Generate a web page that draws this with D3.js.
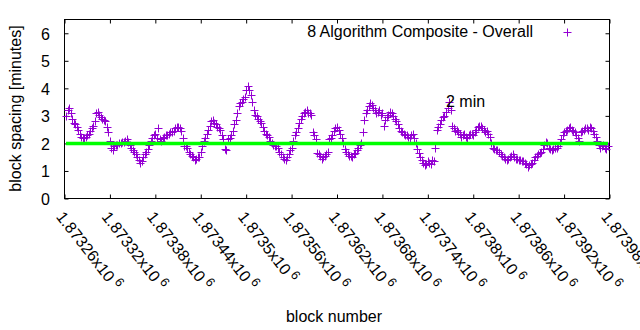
<!DOCTYPE html>
<html>
<head>
<meta charset="utf-8">
<script src="https://cdn.jsdelivr.net/npm/d3@7"></script>
<style>
body { margin: 0; background: #fff; }
text { font-family: "Liberation Sans", Arial, sans-serif; font-size: 16px; fill: #000; }
</style>
</head>
<body>
<div id="chart"></div>
<script>
// block numbers (x) and block spacing in minutes (y)
var blocks = [
  1873262,1873264,1873266,1873268,1873270,1873272,1873274,1873276,1873278,1873280,1873282,1873284,1873286,1873288,1873290,1873292,1873294,1873296,1873298,1873300,
  1873302,1873304,1873306,1873308,1873310,1873312,1873314,1873316,1873318,1873320,1873322,1873324,1873326,1873328,1873330,1873332,1873334,1873336,1873338,1873340,
  1873342,1873344,1873346,1873348,1873350,1873352,1873354,1873356,1873358,1873360,1873362,1873364,1873366,1873368,1873370,1873372,1873374,1873376,1873378,1873380,
  1873382,1873384,1873386,1873388,1873390,1873392,1873394,1873396,1873398,1873400,1873402,1873404,1873406,1873408,1873410,1873412,1873414,1873416,1873418,1873420,
  1873422,1873424,1873426,1873428,1873430,1873432,1873434,1873436,1873438,1873440,1873442,1873444,1873446,1873448,1873450,1873452,1873454,1873456,1873458,1873460,
  1873462,1873464,1873466,1873468,1873470,1873472,1873474,1873476,1873478,1873480,1873482,1873484,1873486,1873488,1873490,1873492,1873494,1873496,1873498,1873500,
  1873502,1873504,1873506,1873508,1873510,1873512,1873514,1873516,1873518,1873520,1873522,1873524,1873526,1873528,1873530,1873532,1873534,1873536,1873538,1873540,
  1873542,1873544,1873546,1873548,1873550,1873552,1873554,1873556,1873558,1873560,1873562,1873564,1873566,1873568,1873570,1873572,1873574,1873576,1873578,1873580,
  1873582,1873584,1873586,1873588,1873590,1873592,1873594,1873596,1873598,1873600,1873602,1873604,1873606,1873608,1873610,1873612,1873614,1873616,1873618,1873620,
  1873622,1873624,1873626,1873628,1873630,1873632,1873634,1873636,1873638,1873640,1873642,1873644,1873646,1873648,1873650,1873652,1873654,1873656,1873658,1873660,
  1873662,1873664,1873666,1873668,1873670,1873672,1873674,1873676,1873678,1873680,1873682,1873684,1873686,1873688,1873690,1873692,1873694,1873696,1873698,1873700,
  1873702,1873704,1873706,1873708,1873710,1873712,1873714,1873716,1873718,1873720,1873722,1873724,1873726,1873728,1873730,1873732,1873734,1873736,1873738,1873740,
  1873742,1873744,1873746,1873748,1873750,1873752,1873754,1873756,1873758,1873760,1873762,1873764,1873766,1873768,1873770,1873772,1873774,1873776,1873778,1873780,
  1873782,1873784,1873786,1873788,1873790,1873792,1873794,1873796,1873798,1873800,1873802,1873804,1873806,1873808,1873810,1873812,1873814,1873816,1873818,1873820,
  1873822,1873824,1873826,1873828,1873830,1873832,1873834,1873836,1873838,1873840,1873842,1873844,1873846,1873848,1873850,1873852,1873854,1873856,1873858,1873860,
  1873862,1873864,1873866,1873868,1873870,1873872,1873874,1873876,1873878,1873880,1873882,1873884,1873886,1873888,1873890,1873892,1873894,1873896,1873898,1873900,
  1873902,1873904,1873906,1873908,1873910,1873912,1873914,1873916,1873918,1873920,1873922,1873924,1873926,1873928,1873930,1873932,1873934,1873936,1873938,1873940,
  1873942,1873944,1873946,1873948,1873950,1873952,1873954,1873956,1873958,1873960,1873962,1873964,1873966,1873968,1873970,1873972,1873974,1873976,1873978
];
var spacing = [
  3.0,3.2, 3.3,3.1, 2.9,2.75, 2.7,2.6, 2.5,2.35, 2.25,2.2, 2.2,2.25, 2.3,2.35, 2.45,2.55, 2.65,2.8,
  3.1,3.15, 3.05,2.95, 2.9,2.85, 2.8,2.6, 2.4,2.1, 1.85,1.75, 1.9,1.95, 1.95,2.0, 2.0,2.05, 2.05,2.1,
  2.15,2.05, 1.95,1.85, 1.75,1.7, 1.6,1.5, 1.4,1.3, 1.35,1.5, 1.6,1.7, 1.8,1.95, 2.1,2.2, 2.3,2.35,
  2.2,2.55, 2.15,2.1, 2.2,2.25, 2.3,2.3, 2.35,2.4, 2.4,2.45, 2.55,2.6, 2.6,2.55, 2.45,2.2, 1.9,1.9,
  1.85,1.7, 1.6,1.55, 1.5,1.4, 1.45,1.5, 1.5,1.7, 1.9,2.1, 2.2,2.35, 2.5,2.65, 2.8,2.85, 2.75,2.7,
  2.6,2.55, 2.5,2.3, 2.15,1.8, 1.75,2.15, 2.2,2.3, 2.45,2.7, 2.85,3.1, 3.35,3.45, 3.5,3.6, 3.7,3.95,
  4.1,3.95, 3.75,3.5, 3.2,3.05, 3.0,2.9, 2.8,2.75, 2.6,2.45, 2.35,2.3, 2.25,2.1, 2.0,1.95, 1.9,1.9,
  1.85,1.7, 1.6,1.5, 1.45,1.4, 1.5,1.6, 1.75,1.85, 2.1,2.3, 2.4,2.55, 2.75,2.9, 3.0,3.1, 3.15,3.2,
  3.1,3.1, 3.05,2.4, 2.3,2.15, 1.65,1.6, 1.55,1.45, 1.5,1.55, 1.6,1.7, 2.15,2.2, 2.3,2.45, 2.55,2.6,
  2.5,2.35, 2.2,2.0, 1.8,1.7, 1.6,1.55, 1.55,1.5, 1.6,1.65, 1.75,1.85, 1.95,2.0, 2.4,2.85, 3.1,3.2,
  3.35,3.45, 3.4,3.3, 3.2,3.1, 3.15,3.2, 3.05,3.1, 2.65,2.85, 2.95,3.05, 3.15,3.1, 3.0,2.9, 2.8,2.7,
  2.55,2.45, 2.4,2.35, 2.3,2.3, 2.25,2.2, 2.3,2.35, 2.2,2.0, 1.8,1.65, 1.5,1.4, 1.3,1.2, 1.25,1.35,
  1.3,1.25, 1.4,1.35, 1.85,2.5, 2.6,2.7, 2.85,2.95, 3.0,3.15, 3.3,3.5, 3.2,2.65, 2.55,2.45, 2.5,2.4,
  2.35,2.25, 2.3,2.35, 2.25,2.2, 2.3,2.35, 2.35,2.3, 2.4,2.5, 2.6,2.65, 2.65,2.55, 2.5,2.4, 2.45,2.35,
  2.25,2.0, 1.85,1.8, 1.75,1.75, 1.7,1.6, 1.55,1.5, 1.45,1.4, 1.45,1.5, 1.55,1.6, 1.5,1.45, 1.45,1.4,
  1.4,1.35, 1.35,1.3, 1.25,1.15, 1.2,1.25, 1.3,1.4, 1.5,1.55, 1.6,1.65, 1.7,1.8, 1.95,2.05, 2.0,1.85,
  1.8,1.75, 1.8,1.85, 1.85,1.9, 2.0,2.15, 2.3,2.4, 2.45,2.5, 2.55,2.6, 2.5,2.45, 2.4,2.3, 2.2,2.1,
  2.4,2.45, 2.5,2.55, 2.55,2.5, 2.6,2.55, 2.45,2.35, 2.25,2.1, 1.95,1.85, 1.9,1.95, 1.85,1.8, 1.9
];
var xTickValues = [1873260,1873320,1873380,1873440,1873500,1873560,1873620,
                   1873680,1873740,1873800,1873860,1873920,1873980];
var xTickLabels = ["1.87326x10","1.87332x10","1.87338x10","1.87344x10","1.8735x10",
                   "1.87356x10","1.87362x10","1.87368x10","1.87374x10","1.8738x10",
                   "1.87386x10","1.87392x10","1.87398x10"];
var xTickExponent = "6";
var yTickValues = [0, 1, 2, 3, 4, 5, 6];
var targetMinutes = 2;
var seriesName = "8 Algorithm Composite - Overall";
var targetLabel = "2 min";

var width = 640, height = 330;
var plotLeft = 64.5, plotRight = 609.5, plotTop = 19.5, plotBottom = 198.5;
var purple = "#9400d3", green = "#00ff00";

var svg = d3.select("#chart").append("svg").attr("width", width).attr("height", height);

var x = d3.scaleLinear().domain([1873260, 1873980]).range([plotLeft, plotRight]);
var y = d3.scaleLinear().domain([0, 6.5]).range([plotBottom, plotTop]);

// axes with inward ticks, mirrored on the opposite sides
var yAxis = svg.append("g").attr("transform", "translate(" + plotLeft + ",0)")
    .call(d3.axisLeft(y).tickValues(yTickValues).tickFormat(d3.format("d"))
        .tickSizeInner(-4).tickSizeOuter(0).tickPadding(14.5));
yAxis.selectAll("text").attr("dy", "0.36em").style("font-size", "16px");

svg.append("g").attr("transform", "translate(" + plotRight + ",0)")
    .call(d3.axisRight(y).tickValues(yTickValues).tickSizeInner(-4).tickSizeOuter(0).tickFormat(""));

var xAxis = svg.append("g").attr("transform", "translate(0," + plotBottom + ")")
    .call(d3.axisBottom(x).tickValues(xTickValues).tickSizeInner(-4).tickSizeOuter(0)
        .tickFormat(function(d, i) { return xTickLabels[i]; }));
xAxis.selectAll("text")
    .attr("x", 0).attr("y", 0).attr("dy", 0)
    .attr("text-anchor", "start")
    .attr("transform", "translate(-9.5,18.5) rotate(52)")
    .style("font-size", "16px")
    .append("tspan").attr("dx", 3.5).attr("dy", -6).style("font-size", "12.8px").text(xTickExponent);

svg.append("g").attr("transform", "translate(0," + plotTop + ")")
    .call(d3.axisTop(x).tickValues(xTickValues).tickSizeInner(-4).tickSizeOuter(0).tickFormat(""));

svg.selectAll(".domain").remove();
svg.selectAll(".tick line").attr("stroke", "#000");

svg.append("rect").attr("x", plotLeft).attr("y", plotTop)
    .attr("width", plotRight - plotLeft).attr("height", plotBottom - plotTop)
    .attr("fill", "none").attr("stroke", "#000").attr("stroke-width", 1);

// scatter of '+' markers
var points = blocks.map(function(b, i) { return {block: b, value: spacing[i]}; });
function plus(cx, cy) {
    cx = Math.round(cx) + 0.5; cy = Math.round(cy) + 0.5;
    return "M" + (cx - 4) + "," + cy + "H" + (cx + 4) + "M" + cx + "," + (cy - 4) + "V" + (cy + 4);
}
svg.append("g").selectAll("path").data(points).enter().append("path")
    .attr("d", function(d) { return plus(x(d.block), y(d.value)); })
    .attr("stroke", purple).attr("stroke-width", 1).attr("fill", "none");

// 2 minute target line
var target = [{block: blocks[0], value: targetMinutes}, {block: blocks[blocks.length - 1], value: targetMinutes}];
svg.append("path").datum(target)
    .attr("d", d3.line().x(function(d) { return x(d.block); }).y(function(d) { return y(d.value); }))
    .attr("stroke", green).attr("stroke-width", 3.5).attr("fill", "none");

svg.append("text").attr("x", 446).attr("y", 106.5).text(targetLabel);

// legend
svg.append("text").attr("x", 533).attr("y", 36.5).attr("text-anchor", "end").text(seriesName);
svg.append("path").attr("d", plus(567, 32)).attr("stroke", purple).attr("stroke-width", 1);

// axis titles
svg.append("text").attr("transform", "translate(21,108.5) rotate(-90)")
    .attr("text-anchor", "middle").text("block spacing [minutes]");
svg.append("text").attr("x", 334).attr("y", 321.5).attr("text-anchor", "middle").text("block number");
</script>
</body>
</html>
